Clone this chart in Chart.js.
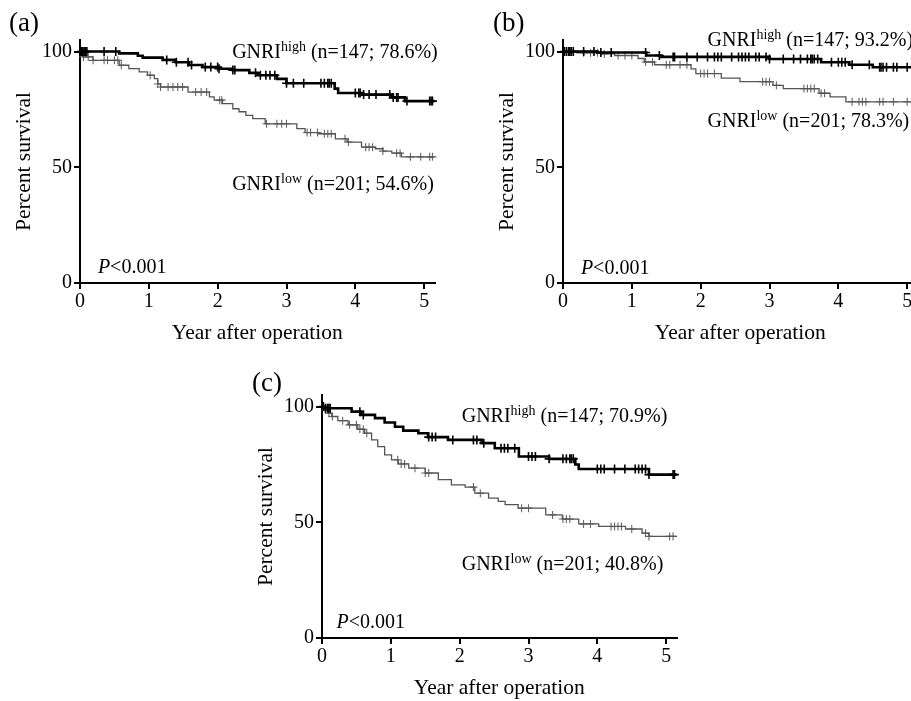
<!DOCTYPE html>
<html>
<head>
<meta charset="utf-8">
<script src="https://cdn.jsdelivr.net/npm/chart.js@4.4.1/dist/chart.umd.min.js"></script>
<style>
  body { margin: 0; width: 911px; height: 701px; overflow: hidden; background: #fff; position: relative;
         font-family: 'Liberation Serif', 'Times New Roman', serif; }
  .box { position: absolute; width: 455px; height: 350px; }
  .tag { position: absolute; font-size: 27px; line-height: 1; color: #000; }
</style>
</head>
<body>
<div class="box" style="left:0;top:0"><canvas id="chartA"></canvas></div>
<div class="box" style="left:483px;top:0"><canvas id="chartB"></canvas></div>
<div class="box" style="left:242px;top:355px"><canvas id="chartC"></canvas></div>
<div class="tag" style="left:9px;top:9px">(a)</div>
<div class="tag" style="left:493px;top:9px">(b)</div>
<div class="tag" style="left:252px;top:369px">(c)</div>
<script>
// (a) step times (years) and survival (%)
const aHighT = [0, 0.57, 0.84, 0.91, 1.2, 1.39, 1.58, 1.78, 2.02, 2.22, 2.46, 2.58, 2.86, 3.0, 3.7, 3.75, 4.1, 4.53, 4.72, 5.15];
const aHighS = [100, 99.2, 98.2, 97.4, 96.4, 95.4, 94.2, 93.3, 92.6, 92.0, 90.8, 89.8, 88.2, 86.3, 84, 82.1, 81.4, 80.2, 78.6, 78.6];
const aLowT = [0, 0.04, 0.19, 0.57, 0.71, 0.86, 0.98, 1.08, 1.13, 1.17, 1.57, 1.88, 1.95, 2.07, 2.22, 2.31, 2.41, 2.51, 2.69, 3.15, 3.27, 3.46, 3.71, 3.88, 4.09, 4.29, 4.4, 4.53, 4.67, 5.15];
const aLowS = [100, 97.7, 96.2, 94.1, 92.6, 91.2, 89.8, 88.3, 86, 84.7, 82.5, 80.4, 79, 77.5, 75.3, 74, 72.4, 71, 68.8, 66.7, 65, 64.5, 62.3, 60.9, 58.7, 58, 57, 56.1, 54.5, 54.5];
const aHighCens = [0.02, 0.04, 0.06, 0.08, 0.1, 0.35, 0.52, 1.26, 1.4, 1.57, 1.62, 1.82, 1.9, 2.0, 2.02, 2.22, 2.25, 2.55, 2.62, 2.7, 2.76, 2.83, 3.0, 3.1, 3.25, 3.5, 3.55, 3.6, 3.62, 3.65, 4.0, 4.05, 4.07, 4.12, 4.2, 4.3, 4.5, 4.55, 4.6, 4.62, 4.75, 5.08, 5.1, 5.12];
const aLowCens = [0.05, 0.12, 0.19, 0.35, 0.4, 0.5, 0.55, 0.6, 1.02, 1.13, 1.17, 1.28, 1.35, 1.42, 1.49, 1.68, 1.76, 1.84, 2.03, 2.06, 2.71, 2.86, 2.93, 3.0, 3.3, 3.35, 3.45, 3.55, 3.6, 3.65, 3.85, 3.9, 4.15, 4.2, 4.25, 4.4, 4.6, 4.65, 4.8, 4.95, 5.08, 5.12];

// (b)
const bHighT = [0, 0.5, 1.21, 1.43, 3.0, 3.75, 4.16, 4.5, 5.15];
const bHighS = [100, 99.6, 98.3, 97.7, 96.8, 95.4, 94.3, 93.2, 93.2];
const bLowT = [0, 0.2, 0.55, 0.75, 1.09, 1.18, 1.33, 1.86, 1.93, 2.3, 2.57, 3.05, 3.2, 3.72, 3.88, 4.11, 5.15];
const bLowS = [100, 99.5, 99, 98.3, 97, 95.5, 94.3, 92.5, 90.5, 88.5, 87, 85.4, 84, 82, 80.4, 78.3, 78.3];
const bHighCens = [0.02, 0.05, 0.08, 0.1, 0.12, 0.15, 0.3, 0.45, 0.55, 0.7, 1.2, 1.4, 1.6, 1.62, 1.8, 1.95, 2.1, 2.2, 2.25, 2.3, 2.45, 2.55, 2.6, 2.65, 2.7, 2.8, 2.85, 2.95, 3.0, 3.2, 3.35, 3.45, 3.55, 3.6, 3.62, 3.65, 3.7, 3.9, 4.0, 4.05, 4.1, 4.2, 4.45, 4.6, 4.62, 4.65, 4.7, 4.8, 4.85, 5.0];
const bLowCens = [0.05, 0.15, 0.3, 0.4, 0.5, 0.6, 0.8, 0.9, 1.0, 1.2, 1.3, 1.5, 1.55, 1.7, 1.8, 2.0, 2.05, 2.1, 2.2, 2.9, 2.95, 3.0, 3.1, 3.5, 3.55, 3.6, 3.65, 3.75, 3.8, 4.2, 4.3, 4.35, 4.4, 4.6, 4.65, 4.8, 5.0];

// (c)
const cHighT = [0, 0.04, 0.43, 0.57, 0.77, 0.91, 1.06, 1.18, 1.4, 1.54, 1.83, 2.32, 2.51, 2.86, 3.3, 3.68, 3.73, 4.75, 5.15];
const cHighS = [100, 99.3, 97.8, 96.4, 95, 93.1, 91.3, 89.6, 88.5, 86.8, 85.6, 84.2, 82.0, 78.4, 77.4, 75, 73, 70.6, 70.6];
const cLowT = [0, 0.04, 0.09, 0.14, 0.23, 0.38, 0.52, 0.62, 0.72, 0.81, 0.91, 1.01, 1.11, 1.26, 1.5, 1.69, 1.88, 2.08, 2.22, 2.42, 2.56, 2.66, 2.85, 3.25, 3.49, 3.73, 4.02, 4.41, 4.65, 4.75, 5.15];
const cLowS = [100, 98.5, 97.1, 95.7, 93.9, 92.1, 90.2, 88.5, 85.6, 82.7, 79.1, 77, 75.2, 73.4, 71.3, 68.4, 66.2, 65.2, 62.6, 60.4, 59, 57.6, 56.1, 53.2, 51.4, 49.3, 48.2, 47.1, 45.3, 43.9, 43.9];
const cHighCens = [0.02, 0.05, 0.08, 0.1, 0.12, 0.55, 0.6, 1.55, 1.6, 1.65, 1.9, 2.2, 2.25, 2.35, 2.6, 2.65, 2.7, 2.8, 3.0, 3.05, 3.1, 3.3, 3.5, 3.55, 3.6, 3.62, 3.65, 4.0, 4.05, 4.1, 4.25, 4.4, 4.55, 4.6, 4.65, 4.7, 4.75, 5.1, 5.12];
const cLowCens = [0.05, 0.1, 0.15, 0.3, 0.4, 0.5, 0.55, 0.6, 0.65, 1.1, 1.15, 1.2, 1.35, 1.5, 1.55, 2.2, 2.3, 2.9, 3.0, 3.35, 3.5, 3.55, 3.6, 3.8, 3.9, 4.2, 4.25, 4.3, 4.35, 4.5, 4.7, 4.75, 5.05, 5.1];

const xTicks = [0, 1, 2, 3, 4, 5];
const yTicks = [0, 50, 100];

const serif = "'Liberation Serif', 'Times New Roman', serif";

function steps(ts, ss) {
  return ts.map((t, i) => ({ x: t, y: ss[i] }));
}
// survival at a censor time
function censors(times, ts, ss) {
  return times.map(t => {
    let v = ss[0];
    for (let i = 0; i < ts.length; i++) if (ts[i] <= t) v = ss[i];
    return { x: t, y: v };
  });
}

// writes GNRI labels and P value inside the plot
const notes = {
  id: 'notes',
  afterDatasetsDraw(chart, args, opts) {
    const { ctx, scales: { x, y } } = chart;
    ctx.save();
    ctx.fillStyle = '#000';
    ctx.textBaseline = 'alphabetic';
    ctx.textAlign = 'left';
    opts.items.forEach(it => {
      let px = x.getPixelForValue(it.x);
      const py = y.getPixelForValue(it.y);
      it.parts.forEach(p => {
        ctx.font = (p.italic ? 'italic ' : '') + p.size + 'px ' + serif;
        ctx.fillText(p.t, px, py - (p.rise || 0));
        px += ctx.measureText(p.t).width;
      });
    });
    ctx.restore();
  }
};

function label(sup, rest) {
  return [{ t: 'GNRI', size: 20 }, { t: sup, size: 14, rise: 7 }, { t: ' ' + rest, size: 20 }];
}
const pText = [{ t: 'P', size: 20, italic: true }, { t: '<0.001', size: 20 }];

function makeChart(id, hT, hS, lT, lS, hC, lC, items) {
  new Chart(document.getElementById(id), {
    type: 'line',
    data: {
      datasets: [
        { data: steps(hT, hS), borderColor: '#000', borderWidth: 2.6, stepped: 'before', pointRadius: 0, clip: 6 },
        { data: censors(hC, hT, hS), showLine: false, pointStyle: 'cross', pointRadius: 4.5,
          pointBorderColor: '#000', pointBorderWidth: 1.6, clip: 8 },
        { data: steps(lT, lS), borderColor: '#555', borderWidth: 1.3, stepped: 'before', pointRadius: 0, clip: 6 },
        { data: censors(lC, lT, lS), showLine: false, pointStyle: 'cross', pointRadius: 4,
          pointBorderColor: '#666', pointBorderWidth: 1.1, clip: 8 }
      ]
    },
    options: {
      responsive: true,
      maintainAspectRatio: false,
      animation: false,
      events: [],
      layout: { padding: { left: 0, top: 40, right: 20.5, bottom: 0 } },
      plugins: {
        legend: { display: false },
        tooltip: { enabled: false },
        notes: { items: items }
      },
      scales: {
        x: {
          type: 'linear', min: 0, max: 5.15,
          afterBuildTicks: s => { s.ticks = xTicks.map(v => ({ value: v })); },
          ticks: { color: '#000', font: { family: serif, size: 20 }, padding: 1, maxRotation: 0 },
          grid: { drawOnChartArea: false, drawTicks: true, tickLength: 6, color: '#000', lineWidth: 2 },
          border: { display: true, color: '#000', width: 2 },
          title: { display: true, text: 'Year after operation', color: '#000',
                   font: { family: serif, size: 21.5 }, padding: { top: 0, bottom: 4 } },
          afterFit: s => { s.height = 67; }
        },
        y: {
          type: 'linear', min: 0, max: 105,
          afterBuildTicks: s => { s.ticks = yTicks.map(v => ({ value: v })); },
          ticks: { color: '#000', font: { family: serif, size: 20 }, padding: 2 },
          grid: { drawOnChartArea: false, drawTicks: true, tickLength: 6, color: '#000', lineWidth: 2 },
          border: { display: true, color: '#000', width: 2 },
          title: { display: true, text: 'Percent survival', color: '#000',
                   font: { family: serif, size: 21.5 }, padding: { top: 11, bottom: 0 } },
          afterFit: s => { s.width = 80; }
        }
      }
    },
    plugins: [notes]
  });
}

makeChart('chartA', aHighT, aHighS, aLowT, aLowS, aHighCens, aLowCens, [
  { x: 2.21, y: 97.3, parts: label('high', '(n=147; 78.6%)') },
  { x: 2.21, y: 40.3, parts: label('low', '(n=201; 54.6%)') },
  { x: 0.26, y: 4.2, parts: pText }
]);
makeChart('chartB', bHighT, bHighS, bLowT, bLowS, bHighCens, bLowCens, [
  { x: 2.10, y: 102.2, parts: label('high', '(n=147; 93.2%)') },
  { x: 2.10, y: 67.5, parts: label('low', '(n=201; 78.3%)') },
  { x: 0.26, y: 4.1, parts: pText }
]);
makeChart('chartC', cHighT, cHighS, cLowT, cLowS, cHighCens, cLowCens, [
  { x: 2.03, y: 93.5, parts: label('high', '(n=147; 70.9%)') },
  { x: 2.03, y: 29.5, parts: label('low', '(n=201; 40.8%)') },
  { x: 0.21, y: 4.3, parts: pText }
]);
</script>
</body>
</html>
